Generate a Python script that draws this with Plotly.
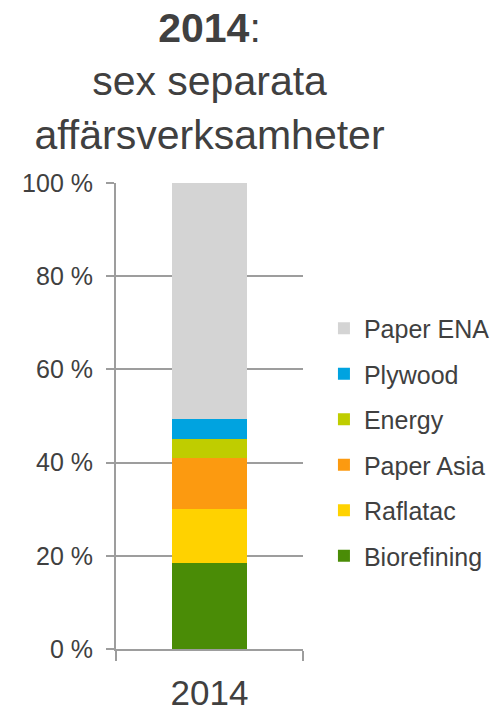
import plotly.graph_objects as go

# Segment shares (%), bottom to top
years = ["2014"]
segments = ["Biorefining", "Raflatac", "Paper Asia", "Energy", "Plywood", "Paper ENA"]
shares = [18.4, 11.7, 10.8, 4.2, 4.3, 50.6]
colors = ["#4a8c06", "#ffd200", "#fc9a10", "#bfcd00", "#00a3e0", "#d4d4d4"]
y_ticks = [0, 20, 40, 60, 80, 100]
y_labels = ["0 %", "20 %", "40 %", "60 %", "80 %", "100 %"]

fig = go.Figure()

n = len(segments)
for i, (name, val, col) in enumerate(zip(segments, shares, colors)):
    fig.add_trace(go.Bar(
        x=years, y=[val], name=name, legendgroup=name,
        legendrank=1000 + (n - i),
        marker=dict(color=col, line=dict(width=0)),
        width=0.4,
    ))

text_col = "#404040"
axis_col = "#9d9d9d"
font_fam = "Liberation Sans"

# page body has an 8px margin, so the figure is 8px smaller than the window
fig.update_layout(
    width=491, height=699,
    barmode="stack",
    paper_bgcolor="white", plot_bgcolor="white",
    margin=dict(l=108, r=196, t=175, b=58, autoexpand=False),
    font=dict(family=font_fam, color=text_col),
    title=dict(
        text="<b>2014</b>:<br>sex separata<br>affärsverksamheter",
        xref="paper", x=0.5, xanchor="center",
        yref="container", y=0.9515, yanchor="top",
        font=dict(size=41, color=text_col, family=font_fam),
    ),
    legend=dict(
        x=1.112, xanchor="left", y=0.444, yanchor="middle",
        traceorder="grouped", tracegroupgap=10,
        font=dict(size=25, color=text_col, family=font_fam),
    ),
    showlegend=True,
)

fig.update_xaxes(
    automargin=False,
    showline=True, linecolor=axis_col, linewidth=2,
    ticks="outside", tickson="boundaries", ticklen=10, tickcolor=axis_col, tickwidth=2,
    ticklabelstandoff=12,
    tickfont=dict(size=35, color=text_col, family=font_fam),
)
fig.update_yaxes(
    automargin=False,
    range=[0, 100], tickvals=y_ticks, ticktext=y_labels,
    showline=True, linecolor=axis_col, linewidth=2,
    showgrid=True, gridcolor=axis_col, gridwidth=2,
    ticks="outside", ticklen=8, tickcolor=axis_col, tickwidth=2,
    ticklabelstandoff=8,
    tickfont=dict(size=25, color=text_col, family=font_fam),
)

fig.write_html("out.html")
